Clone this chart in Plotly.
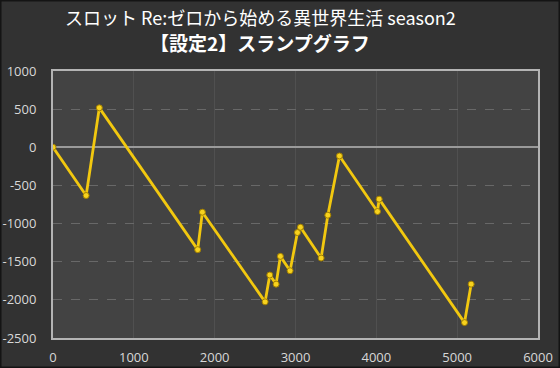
import plotly.graph_objects as go

x_vals = [0, 410, 573, 1790, 1848, 2624, 2682, 2760, 2813, 2933, 3024, 3061, 3317, 3400, 3544, 4014, 4035, 5091, 5173]
y_vals = [0, -632, 517, -1342, -851, -2026, -1675, -1794, -1430, -1618, -1118, -1048, -1452, -890, -114, -842, -680, -2298, -1794]
title_line1 = "スロット Re:ゼロから始める異世界生活 season2"
title_line2 = "【設定2】スランプグラフ"
x_ticks = [0, 1000, 2000, 3000, 4000, 5000, 6000]
y_ticks = [1000, 500, 0, -500, -1000, -1500, -2000, -2500]

W, H = 560, 368
L, R, T, B = 53, 22, 71, 30
pw, ph = W - L - R, H - T - B
title_cx = (260 - L) / pw

fig = go.Figure()
fig.add_trace(go.Scatter(
    x=x_vals, y=y_vals, mode="lines+markers",
    line=dict(color="#f2c80f", width=2.8),
    marker=dict(size=6, color="#f7d21e", line=dict(color="#a07e00", width=1)),
))

fig.update_layout(
    width=W, height=H,
    margin=dict(l=L, r=R, t=T, b=B, autoexpand=False),
    paper_bgcolor="#323232",
    plot_bgcolor="#434343",
    showlegend=False,
    font=dict(family="Open Sans", size=13, color="#d8d8d8"),
)
fig.add_annotation(
    text=title_line1, xref="paper", yref="paper",
    x=title_cx, y=(H - B - 17) / ph, xanchor="center", yanchor="middle", showarrow=False,
    font=dict(family="Noto Sans CJK JP", size=18, color="#ffffff"),
)
fig.add_annotation(
    text="<b>" + title_line2 + "</b>", xref="paper", yref="paper",
    x=title_cx, y=(H - B - 43) / ph, xanchor="center", yanchor="middle", showarrow=False,
    font=dict(family="Noto Sans CJK JP", size=19, color="#ffffff"),
)

# outer dark border of the image
fig.add_shape(
    type="rect", xref="paper", yref="paper",
    x0=-L / pw + 0.001, x1=1 + R / pw - 0.001,
    y0=-B / ph + 0.002, y1=1 + T / ph - 0.002,
    line=dict(color="#141414", width=2), layer="above",
)

fig.update_xaxes(
    range=[0, 6000], tickvals=x_ticks, ticktext=[str(v) for v in x_ticks],
    showgrid=True, gridcolor="#505050", gridwidth=1,
    showline=True, linecolor="#b4b4b4", linewidth=2, mirror=True,
    zeroline=False, ticks="outside", ticklen=6, tickcolor="rgba(0,0,0,0)",
    tickfont=dict(size=13, color="#d8d8d8"), automargin=False,
)
fig.update_yaxes(
    range=[-2500, 1000], tickvals=y_ticks, ticktext=[str(v) for v in y_ticks],
    showgrid=True, gridcolor="#686868", griddash="dash", gridwidth=1,
    showline=True, linecolor="#b4b4b4", linewidth=2, mirror=True,
    zeroline=True, zerolinecolor="#9a9a9a", zerolinewidth=2,
    ticks="outside", ticklen=12, tickcolor="rgba(0,0,0,0)",
    tickfont=dict(size=13, color="#d8d8d8"), automargin=False,
)

fig.write_html("out.html")
